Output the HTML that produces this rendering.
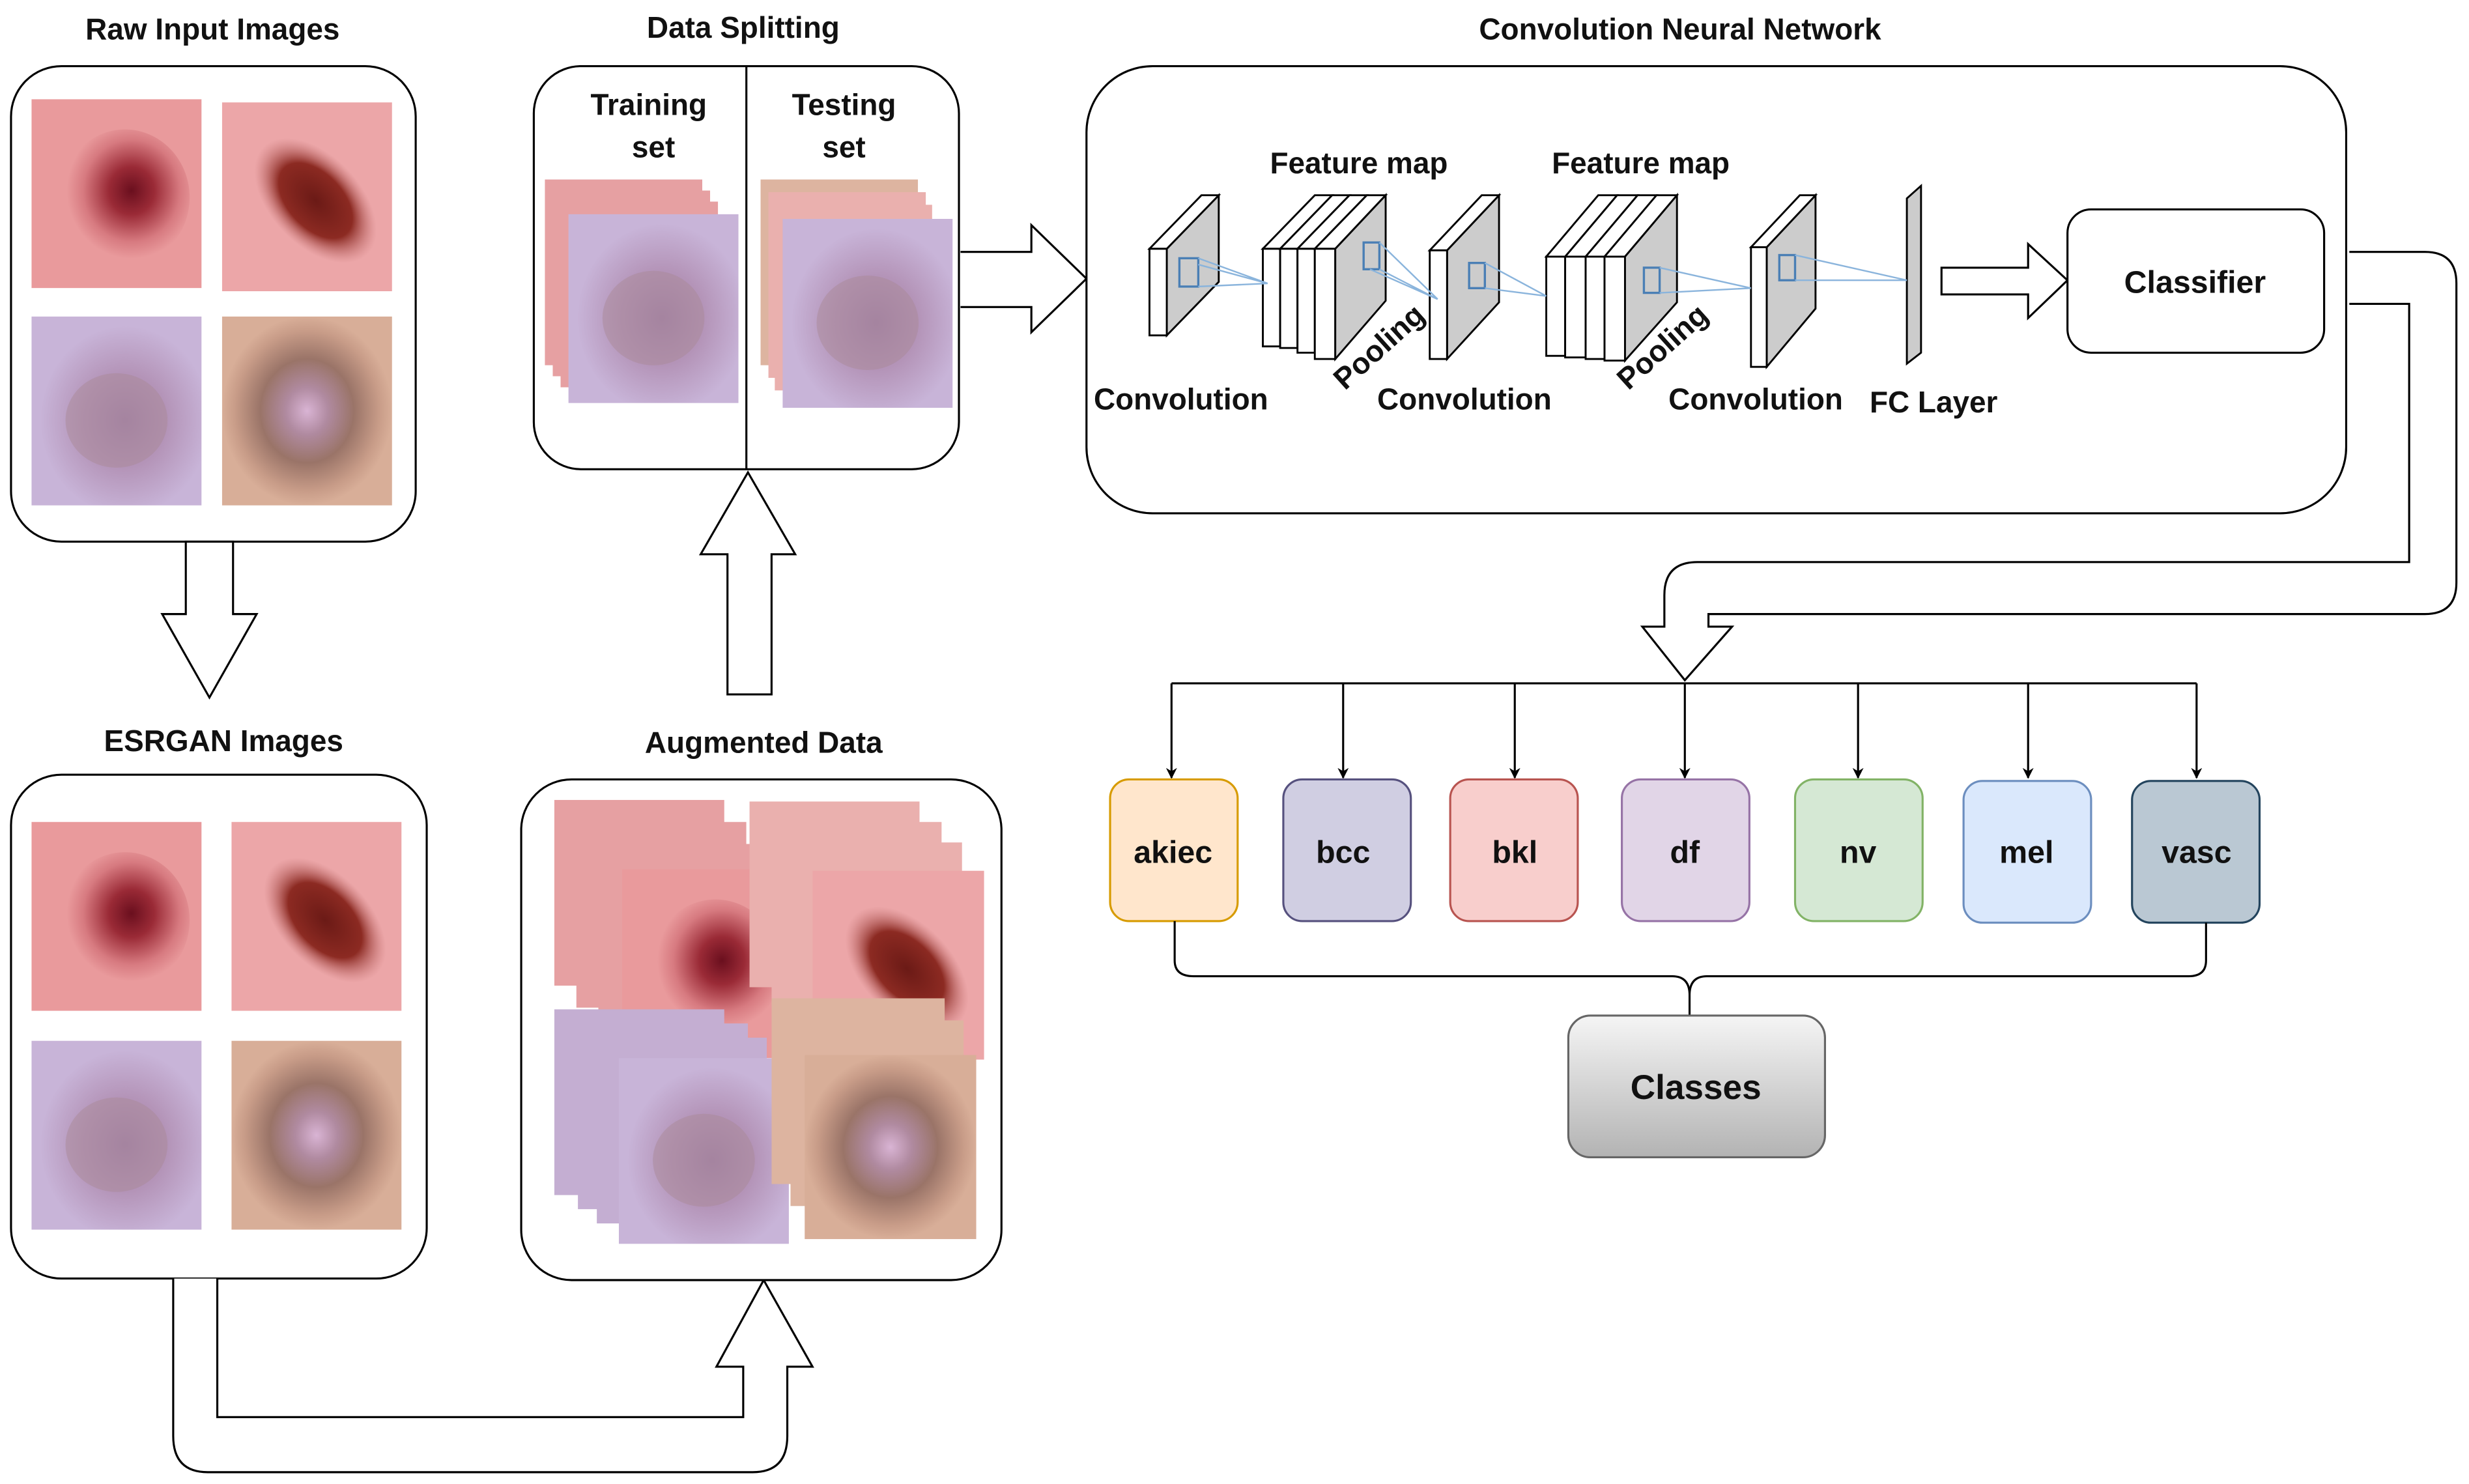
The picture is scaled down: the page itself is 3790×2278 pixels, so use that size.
<!DOCTYPE html>
<html><head><meta charset="utf-8"><style>
html,body{margin:0;padding:0;background:#fff;}
svg{display:block;}
text{font-family:"Liberation Sans",Arial,sans-serif;font-weight:bold;fill:#111;}
</style></head><body>
<svg width="3790" height="2278" viewBox="0 0 1568 942.5" preserveAspectRatio="none" xmlns="http://www.w3.org/2000/svg">
<defs>
<radialGradient id="gA" cx="0.55" cy="0.45" r="0.5"><stop offset="0" stop-color="#6a0f1e"/><stop offset="0.35" stop-color="#9a2a36"/><stop offset="0.75" stop-color="#d77a80"/><stop offset="1" stop-color="#e99a9c"/></radialGradient>
<radialGradient id="gB" cx="0.5" cy="0.5" r="0.5"><stop offset="0" stop-color="#6b1a16"/><stop offset="0.6" stop-color="#8c2a22"/><stop offset="1" stop-color="#c07070" stop-opacity="0"/></radialGradient>
<radialGradient id="gC" cx="0.55" cy="0.55" r="0.5"><stop offset="0" stop-color="#a07ea8"/><stop offset="0.5" stop-color="#b494b8"/><stop offset="1" stop-color="#c8b4d8"/></radialGradient>
<radialGradient id="gD" cx="0.5" cy="0.5" r="0.5"><stop offset="0" stop-color="#d9b4d4"/><stop offset="0.25" stop-color="#b08aa0"/><stop offset="0.55" stop-color="#9a7468"/><stop offset="0.85" stop-color="#c89c88"/><stop offset="1" stop-color="#d8ae98"/></radialGradient>
<linearGradient id="gCl" x1="0" y1="0" x2="0" y2="1"><stop offset="0" stop-color="#f5f5f5"/><stop offset="1" stop-color="#b3b3b3"/></linearGradient>
<symbol id="iA" viewBox="0 0 100 100" preserveAspectRatio="none"><rect width="100" height="100" fill="#e99a9c"/><ellipse cx="55" cy="52" rx="38" ry="36" fill="url(#gA)"/></symbol>
<symbol id="iB" viewBox="0 0 100 100" preserveAspectRatio="none"><rect width="100" height="100" fill="#eca6a8"/><ellipse cx="55" cy="52" rx="42" ry="25" transform="rotate(40 55 52)" fill="url(#gB)"/></symbol>
<symbol id="iC" viewBox="0 0 100 100" preserveAspectRatio="none"><rect width="100" height="100" fill="url(#gC)"/><ellipse cx="50" cy="55" rx="30" ry="25" fill="#a98a98" opacity="0.5"/></symbol>
<symbol id="iD" viewBox="0 0 100 100" preserveAspectRatio="none"><rect width="100" height="100" fill="url(#gD)"/></symbol>
<symbol id="iE" viewBox="0 0 100 100" preserveAspectRatio="none"><rect width="100" height="100" fill="#e6a0a2"/></symbol>
<symbol id="iF" viewBox="0 0 100 100" preserveAspectRatio="none"><rect width="100" height="100" fill="#eab0ae"/></symbol>
<symbol id="iG" viewBox="0 0 100 100" preserveAspectRatio="none"><rect width="100" height="100" fill="#c4aed2"/></symbol>
<symbol id="iH" viewBox="0 0 100 100" preserveAspectRatio="none"><rect width="100" height="100" fill="#ddb4a0"/></symbol>
<marker id="ar" viewBox="0 0 10 10" refX="9" refY="5" markerWidth="7" markerHeight="9" orient="auto" markerUnits="userSpaceOnUse"><path d="M0,0 L10,5 L0,10 L3,5 Z" fill="#000"/></marker>
</defs>

<!-- Raw input -->
<text x="135" y="25" font-size="19" text-anchor="middle">Raw Input Images</text>
<rect x="7" y="42" width="257" height="302" rx="32" fill="#fff" stroke="#000" stroke-width="1.3"/>
<use href="#iA" x="20" y="63" width="108" height="120"/>
<use href="#iB" x="141" y="65" width="108" height="120"/>
<use href="#iC" x="20" y="201" width="108" height="120"/>
<use href="#iD" x="141" y="201" width="108" height="120"/>

<!-- down arrow -->
<path d="M118,344 L148,344 L148,390 L163,390 L133,443 L103,390 L118,390 Z" fill="#fff" stroke="#000" stroke-width="1.3"/>

<!-- ESRGAN -->
<text x="142" y="477" font-size="19" text-anchor="middle">ESRGAN Images</text>
<rect x="7" y="492" width="264" height="320" rx="32" fill="#fff" stroke="#000" stroke-width="1.3"/>
<use href="#iA" x="20" y="522" width="108" height="120"/>
<use href="#iB" x="147" y="522" width="108" height="120"/>
<use href="#iC" x="20" y="661" width="108" height="120"/>
<use href="#iD" x="147" y="661" width="108" height="120"/>

<!-- U arrow -->
<path d="M110,812 L110,912 Q110,935 132,935 L478,935 Q500,935 500,912 L500,868 L516,868 L485,813 L455,868 L472,868 L472,900 L138,900 L138,812" fill="#fff" stroke="#000" stroke-width="1.3"/>

<!-- Augmented -->
<text x="485" y="478" font-size="19" text-anchor="middle">Augmented Data</text>
<rect x="331" y="495" width="305" height="318" rx="32" fill="#fff" stroke="#000" stroke-width="1.3"/>
<use href="#iE" x="352" y="508" width="108" height="118"/>
<use href="#iE" x="366" y="522" width="108" height="118"/>
<use href="#iE" x="380" y="536" width="108" height="118"/>
<use href="#iA" x="395" y="552" width="108" height="120"/>
<use href="#iF" x="476" y="509" width="108" height="118"/>
<use href="#iF" x="490" y="522" width="108" height="118"/>
<use href="#iF" x="503" y="535" width="108" height="118"/>
<use href="#iB" x="516" y="553" width="109" height="120"/>
<use href="#iG" x="352" y="641" width="108" height="118"/>
<use href="#iG" x="367" y="650" width="108" height="118"/>
<use href="#iG" x="379" y="659" width="108" height="118"/>
<use href="#iC" x="393" y="672" width="108" height="118"/>
<use href="#iH" x="490" y="634" width="110" height="118"/>
<use href="#iH" x="502" y="648" width="110" height="118"/>
<use href="#iD" x="511" y="670" width="109" height="117"/>

<!-- up arrow -->
<path d="M462,441 L490,441 L490,352 L505,352 L475,300 L445,352 L462,352 Z" fill="#fff" stroke="#000" stroke-width="1.3"/>

<!-- Data splitting -->
<text x="472" y="24" font-size="19" text-anchor="middle">Data Splitting</text>
<rect x="339" y="42" width="270" height="256" rx="30" fill="#fff" stroke="#000" stroke-width="1.3"/>
<line x1="474" y1="42" x2="474" y2="298" stroke="#000" stroke-width="1.3"/>
<text x="412" y="73" font-size="19" text-anchor="middle">Training</text>
<text x="415" y="100" font-size="19" text-anchor="middle">set</text>
<text x="536" y="73" font-size="19" text-anchor="middle">Testing</text>
<text x="536" y="100" font-size="19" text-anchor="middle">set</text>
<use href="#iE" x="346" y="114" width="100" height="118"/>
<use href="#iE" x="351" y="121" width="100" height="118"/>
<use href="#iE" x="356" y="128" width="100" height="118"/>
<use href="#iC" x="361" y="136" width="108" height="120"/>
<use href="#iH" x="483" y="114" width="100" height="118"/>
<use href="#iF" x="488" y="122" width="100" height="118"/>
<use href="#iF" x="492" y="130" width="100" height="118"/>
<use href="#iC" x="497" y="139" width="108" height="120"/>

<!-- right arrow -->
<path d="M610,160 L655,160 L655,143 L690,177 L655,211 L655,195 L610,195" fill="#fff" stroke="#000" stroke-width="1.3"/>

<!-- CNN -->
<text x="1067" y="25" font-size="19" text-anchor="middle">Convolution Neural Network</text>
<rect x="690" y="42" width="800" height="284" rx="42" fill="#fff" stroke="#000" stroke-width="1.3"/>
<g stroke="#000" stroke-width="1.2">
 <!-- conv1 -->
 <path d="M741,158 L774,124 L774,179 L741,213 Z" fill="#ccc"/>
 <path d="M730,158 L763,124 L774,124 L741,158 Z" fill="#fff"/>
 <rect x="730" y="158" width="11" height="55" fill="#fff"/>
 <!-- feature map 1 -->
 <path d="M802,158 L835,124 L846,124 L813,158 Z" fill="#fff"/><rect x="802" y="158" width="11" height="62" fill="#fff"/>
 <path d="M813,158 L846,124 L857,124 L824,158 Z" fill="#fff"/><rect x="813" y="158" width="11" height="63" fill="#fff"/>
 <path d="M824,158 L857,124 L868,124 L835,158 Z" fill="#fff"/><rect x="824" y="158" width="11" height="66" fill="#fff"/>
 <path d="M835,158 L868,124 L880,124 L848,158 Z" fill="#fff"/><rect x="835" y="158" width="13" height="70" fill="#fff"/>
 <path d="M848,158 L880,124 L880,191 L848,228 Z" fill="#ccc"/>
 <!-- conv2 -->
 <path d="M919,159 L952,124 L952,192 L919,228 Z" fill="#ccc"/>
 <path d="M908,159 L941,124 L952,124 L919,159 Z" fill="#fff"/>
 <rect x="908" y="159" width="11" height="69" fill="#fff"/>
 <!-- feature map 2 -->
 <path d="M982,163 L1015,124 L1027,124 L994,163 Z" fill="#fff"/><rect x="982" y="163" width="12" height="63" fill="#fff"/>
 <path d="M994,163 L1027,124 L1040,124 L1007,163 Z" fill="#fff"/><rect x="994" y="163" width="13" height="64" fill="#fff"/>
 <path d="M1007,163 L1040,124 L1052,124 L1019,163 Z" fill="#fff"/><rect x="1007" y="163" width="12" height="65" fill="#fff"/>
 <path d="M1019,163 L1052,124 L1065,124 L1032,163 Z" fill="#fff"/><rect x="1019" y="163" width="13" height="66" fill="#fff"/>
 <path d="M1032,163 L1065,124 L1065,192 L1032,229 Z" fill="#ccc"/>
 <!-- conv3 -->
 <path d="M1122,157 L1153,124 L1153,196 L1122,233 Z" fill="#ccc"/>
 <path d="M1112,157 L1143,124 L1153,124 L1122,157 Z" fill="#fff"/>
 <rect x="1112" y="157" width="10" height="76" fill="#fff"/>
 <!-- FC -->
 <path d="M1211,126 L1220,118 L1220,224 L1211,231 Z" fill="#ccc"/>
</g>
<g stroke="#4a7fb5" stroke-width="1.4" fill="none">
 <rect x="749" y="164" width="12" height="18"/>
 <rect x="866" y="154" width="10" height="17"/>
 <rect x="933" y="167" width="10" height="16"/>
 <rect x="1044" y="170" width="10" height="16"/>
 <rect x="1130" y="162" width="10" height="16"/>
</g>
<g stroke="#8ab4dc" stroke-width="1" fill="none">
 <path d="M761,164 L805,180 L761,182 M761,168 L805,180"/>
 <path d="M876,154 L913,190 M876,171 L913,190 M870,171 L913,190"/>
 <path d="M943,167 L982,188 M943,183 L982,188"/>
 <path d="M1054,170 L1112,183 M1054,186 L1112,183"/>
 <path d="M1140,162 L1211,178 M1140,178 L1211,178"/>
</g>
<text x="750" y="260" font-size="19" text-anchor="middle">Convolution</text>
<text x="930" y="260" font-size="19" text-anchor="middle">Convolution</text>
<text x="1115" y="260" font-size="19" text-anchor="middle">Convolution</text>
<text x="1228" y="262" font-size="19" text-anchor="middle">FC Layer</text>
<text x="863" y="110" font-size="19" text-anchor="middle">Feature map</text>
<text x="1042" y="110" font-size="19" text-anchor="middle">Feature map</text>
<text x="0" y="0" font-size="19" text-anchor="middle" transform="translate(880,225) rotate(-42)">Pooling</text>
<text x="0" y="0" font-size="19" text-anchor="middle" transform="translate(1060,225) rotate(-42)">Pooling</text>

<!-- arrow to classifier -->
<path d="M1233,170 L1288,170 L1288,155 L1313,178 L1288,202 L1288,187 L1233,187 Z" fill="#fff" stroke="#000" stroke-width="1.3"/>
<rect x="1313" y="133" width="163" height="91" rx="15" fill="#fff" stroke="#000" stroke-width="1.3"/>
<text x="1394" y="186" font-size="20" text-anchor="middle">Classifier</text>

<!-- connector from classifier -->
<path d="M1492,160 L1540,160 Q1560,160 1560,180 L1560,370 Q1560,390 1540,390 L1085,390 L1085,398 L1100,398 L1070,432 L1043,398 L1057,398 L1057,378 Q1057,357 1078,357 L1530,357 L1530,193 L1492,193" fill="#fff" stroke="#000" stroke-width="1.3"/>

<!-- distribution lines -->
<g stroke="#000" stroke-width="1.3" fill="none">
 <line x1="744" y1="434" x2="1395" y2="434"/>
 <line x1="744" y1="434" x2="744" y2="494" marker-end="url(#ar)"/>
 <line x1="853" y1="434" x2="853" y2="494" marker-end="url(#ar)"/>
 <line x1="962" y1="434" x2="962" y2="494" marker-end="url(#ar)"/>
 <line x1="1070" y1="434" x2="1070" y2="494" marker-end="url(#ar)"/>
 <line x1="1180" y1="434" x2="1180" y2="494" marker-end="url(#ar)"/>
 <line x1="1288" y1="434" x2="1288" y2="494" marker-end="url(#ar)"/>
 <line x1="1395" y1="434" x2="1395" y2="494" marker-end="url(#ar)"/>
</g>
<g stroke-width="1.3">
 <rect x="705" y="495" width="81" height="90" rx="12" fill="#ffe6cc" stroke="#d79b00"/>
 <rect x="815" y="495" width="81" height="90" rx="12" fill="#d0cee2" stroke="#56517e"/>
 <rect x="921" y="495" width="81" height="90" rx="12" fill="#f8cecc" stroke="#b85450"/>
 <rect x="1030" y="495" width="81" height="90" rx="12" fill="#e1d5e7" stroke="#9673a6"/>
 <rect x="1140" y="495" width="81" height="90" rx="12" fill="#d5e8d4" stroke="#82b366"/>
 <rect x="1247" y="496" width="81" height="90" rx="12" fill="#dae8fc" stroke="#6c8ebf"/>
 <rect x="1354" y="496" width="81" height="90" rx="12" fill="#bac8d3" stroke="#23445d"/>
</g>
<g font-size="20" text-anchor="middle">
 <text x="745" y="548">akiec</text>
 <text x="853" y="548">bcc</text>
 <text x="962" y="548">bkl</text>
 <text x="1070" y="548">df</text>
 <text x="1180" y="548">nv</text>
 <text x="1287" y="548">mel</text>
 <text x="1395" y="548">vasc</text>
</g>
<path d="M746,585 L746,610 Q746,620 758,620 L1062,620 Q1073,620 1073,632 Q1073,620 1084,620 L1390,620 Q1401,620 1401,610 L1401,586 M1073,630 L1073,645" fill="none" stroke="#000" stroke-width="1.3"/>
<rect x="996" y="645" width="163" height="90" rx="14" fill="url(#gCl)" stroke="#666" stroke-width="1.3"/>
<text x="1077" y="698" font-size="22" text-anchor="middle">Classes</text>
</svg>
</body></html>
